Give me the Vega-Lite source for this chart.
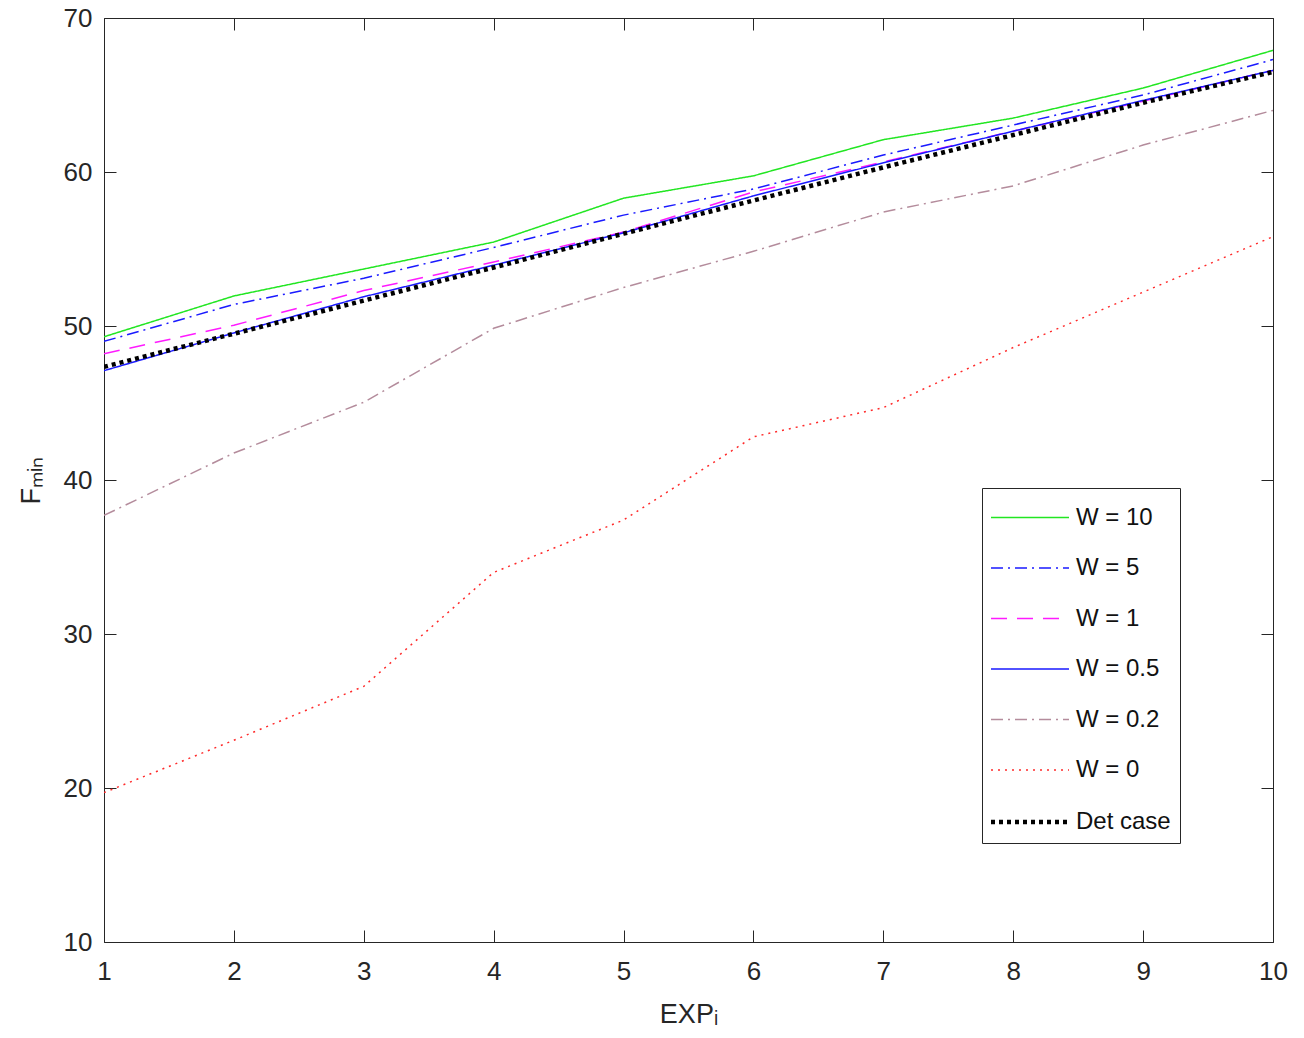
{
  "$schema": "https://vega.github.io/schema/vega-lite/v6.json",
  "width": 1169,
  "height": 924,
  "autosize": {"type": "none"},
  "padding": {"left": 104, "top": 18, "right": 31, "bottom": 96},
  "background": "white",
  "config": {
    "view": {"stroke": "#262626", "strokeWidth": 1},
    "font": "Liberation Sans",
    "axis": {
      "grid": false,
      "domain": false,
      "tickColor": "#262626",
      "tickSize": -12,
      "labelFlush": false,
      "labelOverlap": false,
      "labelFont": "Liberation Sans",
      "labelFontSize": 26,
      "labelColor": "#262626",
      "titleFont": "Liberation Sans",
      "titleFontSize": 27,
      "titleFontWeight": "normal",
      "titleColor": "#262626"
    },
    "legend": {
      "orient": "none",
      "legendX": 878,
      "legendY": 470,
      "strokeColor": "#262626",
      "fillColor": "white",
      "padding": 9,
      "labelFont": "Liberation Sans",
      "labelFontSize": 24,
      "labelColor": "#111111",
      "symbolType": "M-2,0L2,0",
      "symbolSize": 1521,
      "symbolOffset": 17,
      "rowPadding": 17.5,
      "labelOffset": 24
    }
  },
  "data": {
    "values": [
      {"x": 1, "series": "W = 10", "y": 49.3},
      {"x": 2, "series": "W = 10", "y": 51.95},
      {"x": 3, "series": "W = 10", "y": 53.7},
      {"x": 4, "series": "W = 10", "y": 55.45},
      {"x": 5, "series": "W = 10", "y": 58.3},
      {"x": 6, "series": "W = 10", "y": 59.75},
      {"x": 7, "series": "W = 10", "y": 62.1},
      {"x": 8, "series": "W = 10", "y": 63.5},
      {"x": 9, "series": "W = 10", "y": 65.45},
      {"x": 10, "series": "W = 10", "y": 67.9},
      {"x": 1, "series": "W = 5", "y": 49.0},
      {"x": 2, "series": "W = 5", "y": 51.4},
      {"x": 3, "series": "W = 5", "y": 53.1},
      {"x": 4, "series": "W = 5", "y": 55.1},
      {"x": 5, "series": "W = 5", "y": 57.2},
      {"x": 6, "series": "W = 5", "y": 58.9},
      {"x": 7, "series": "W = 5", "y": 61.1},
      {"x": 8, "series": "W = 5", "y": 63.05},
      {"x": 9, "series": "W = 5", "y": 65.0},
      {"x": 10, "series": "W = 5", "y": 67.3},
      {"x": 1, "series": "W = 1", "y": 48.2},
      {"x": 2, "series": "W = 1", "y": 50.05},
      {"x": 3, "series": "W = 1", "y": 52.3},
      {"x": 4, "series": "W = 1", "y": 54.15},
      {"x": 5, "series": "W = 1", "y": 56.1},
      {"x": 6, "series": "W = 1", "y": 58.7},
      {"x": 7, "series": "W = 1", "y": 60.65},
      {"x": 8, "series": "W = 1", "y": 62.65},
      {"x": 9, "series": "W = 1", "y": 64.6},
      {"x": 10, "series": "W = 1", "y": 66.6},
      {"x": 1, "series": "W = 0.5", "y": 47.1},
      {"x": 2, "series": "W = 0.5", "y": 49.55},
      {"x": 3, "series": "W = 0.5", "y": 51.9},
      {"x": 4, "series": "W = 0.5", "y": 53.95},
      {"x": 5, "series": "W = 0.5", "y": 56.05},
      {"x": 6, "series": "W = 0.5", "y": 58.45},
      {"x": 7, "series": "W = 0.5", "y": 60.6},
      {"x": 8, "series": "W = 0.5", "y": 62.65},
      {"x": 9, "series": "W = 0.5", "y": 64.65},
      {"x": 10, "series": "W = 0.5", "y": 66.6},
      {"x": 1, "series": "W = 0.2", "y": 37.7},
      {"x": 2, "series": "W = 0.2", "y": 41.75},
      {"x": 3, "series": "W = 0.2", "y": 45.05},
      {"x": 4, "series": "W = 0.2", "y": 49.85},
      {"x": 5, "series": "W = 0.2", "y": 52.5},
      {"x": 6, "series": "W = 0.2", "y": 54.85},
      {"x": 7, "series": "W = 0.2", "y": 57.4},
      {"x": 8, "series": "W = 0.2", "y": 59.1},
      {"x": 9, "series": "W = 0.2", "y": 61.75},
      {"x": 10, "series": "W = 0.2", "y": 64.0},
      {"x": 1, "series": "W = 0", "y": 19.7},
      {"x": 2, "series": "W = 0", "y": 23.1},
      {"x": 3, "series": "W = 0", "y": 26.6},
      {"x": 4, "series": "W = 0", "y": 34.0},
      {"x": 5, "series": "W = 0", "y": 37.4},
      {"x": 6, "series": "W = 0", "y": 42.8},
      {"x": 7, "series": "W = 0", "y": 44.7},
      {"x": 8, "series": "W = 0", "y": 48.6},
      {"x": 9, "series": "W = 0", "y": 52.2},
      {"x": 10, "series": "W = 0", "y": 55.8},
      {"x": 1, "series": "Det case", "y": 47.35},
      {"x": 2, "series": "Det case", "y": 49.5},
      {"x": 3, "series": "Det case", "y": 51.65},
      {"x": 4, "series": "Det case", "y": 53.8},
      {"x": 5, "series": "Det case", "y": 56.0},
      {"x": 6, "series": "Det case", "y": 58.15},
      {"x": 7, "series": "Det case", "y": 60.3},
      {"x": 8, "series": "Det case", "y": 62.4},
      {"x": 9, "series": "Det case", "y": 64.5},
      {"x": 10, "series": "Det case", "y": 66.5}
    ]
  },
  "layer": [
    {
      "mark": {"type": "line", "clip": true},
      "encoding": {
        "x": {
          "field": "x", "type": "quantitative",
          "scale": {"domain": [1, 10], "nice": false, "zero": false},
          "axis": {"orient": "bottom", "values": [1,2,3,4,5,6,7,8,9,10], "title": "EXPᵢ", "labelPadding": 28, "titlePadding": 17}
        },
        "y": {
          "field": "y", "type": "quantitative",
          "scale": {"domain": [10, 70], "nice": false, "zero": false},
          "axis": {"orient": "left", "values": [10,20,30,40,50,60,70], "title": "Fₘᵢₙ", "labelPadding": 24, "titlePadding": 18}
        },
        "color": {
          "field": "series", "type": "nominal", "title": null,
          "scale": {
            "domain": ["W = 10", "W = 5", "W = 1", "W = 0.5", "W = 0.2", "W = 0", "Det case"],
            "range": ["#22e622", "#1a1aff", "#ff1aff", "#1a1aff", "#b48c9c", "#ff2a2a", "#000000"]
          }
        },
        "strokeDash": {
          "field": "series", "type": "nominal", "title": null,
          "scale": {
            "domain": ["W = 10", "W = 5", "W = 1", "W = 0.5", "W = 0.2", "W = 0", "Det case"],
            "range": [[1, 0], [12, 5, 2, 5], [16, 10], [1, 0], [12, 5, 2, 5], [2, 5], [4, 4]]
          }
        },
        "strokeWidth": {
          "field": "series", "type": "ordinal", "title": null,
          "scale": {
            "type": "ordinal",
            "domain": ["W = 10", "W = 5", "W = 1", "W = 0.5", "W = 0.2", "W = 0", "Det case"],
            "range": [1.5, 1.5, 1.5, 1.5, 1.5, 1.5, 4.5]
          }
        }
      }
    },
    {
      "mark": {"type": "line", "opacity": 0},
      "encoding": {
        "x": {
          "field": "x", "type": "quantitative",
          "axis": {"orient": "top", "values": [1,2,3,4,5,6,7,8,9,10], "labels": false, "title": null}
        },
        "y": {
          "field": "y", "type": "quantitative",
          "axis": {"orient": "right", "values": [10,20,30,40,50,60,70], "labels": false, "title": null}
        },
        "detail": {"field": "series"}
      }
    }
  ],
  "resolve": {"axis": {"x": "independent", "y": "independent"}}
}
